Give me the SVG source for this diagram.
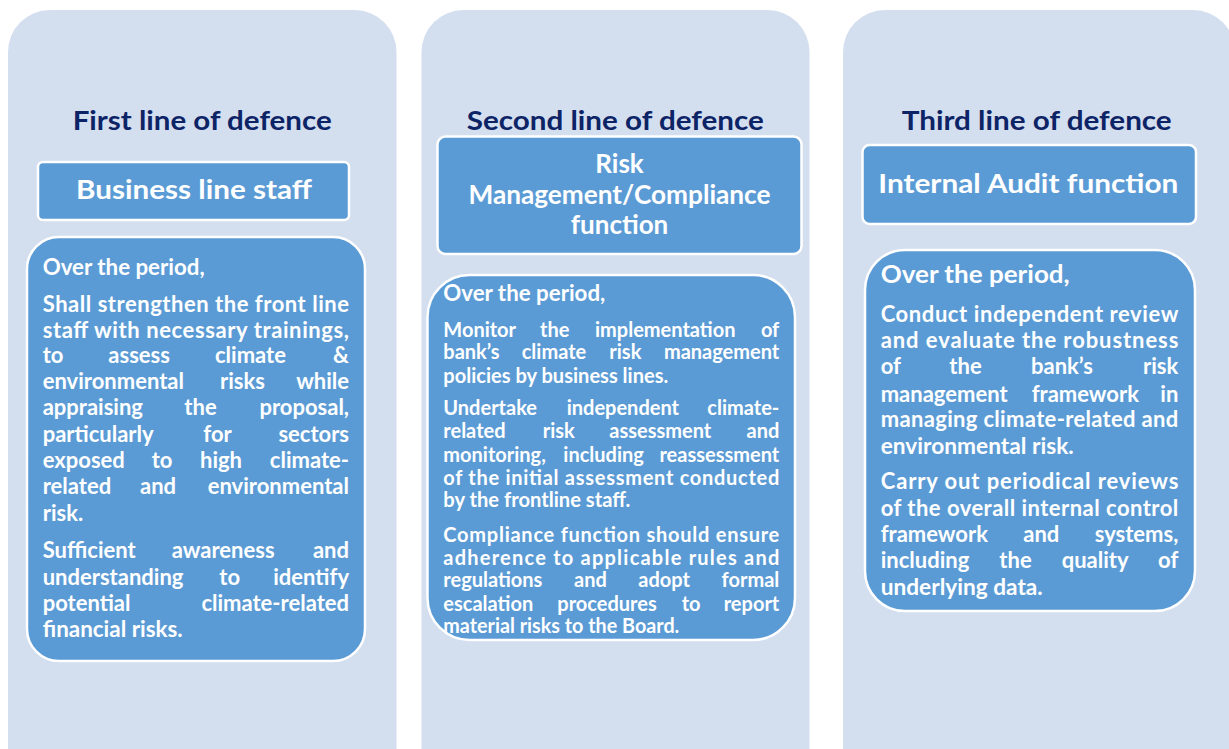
<svg xmlns="http://www.w3.org/2000/svg" width="1229" height="749" viewBox="0 0 1229 749">
  <style>
    .panel { fill: #D3DEEF; }
    .box { fill: #5B9BD5; stroke: #FFFFFF; stroke-width: 2.5; }
    .title { font-family: Lato, "Open Sans", sans-serif; font-weight: 700; font-size: 26px; fill: #0C2366; text-anchor: middle; }
    .head { font-family: Lato, "Open Sans", sans-serif; font-weight: 700; font-size: 26px; fill: #FFFFFF; text-anchor: middle; }
    .t1 { font-family: Lato, "Open Sans", sans-serif; font-weight: 700; font-size: 22px; fill: #FFFFFF; }
    .t2 { font-family: Lato, "Open Sans", sans-serif; font-weight: 700; font-size: 20px; fill: #FFFFFF; }
    .t3 { font-family: Lato, "Open Sans", sans-serif; font-weight: 700; font-size: 22px; fill: #FFFFFF; }
    .big { font-size: 25.5px; }
    .e { text-anchor: end; }
  </style>

  <rect width="1229" height="749" fill="#FFFFFF"/>

  <!-- column backgrounds -->
  <g id="panels">
    <rect id="panel-first" class="panel" x="8" y="10" width="388.5" height="790" rx="42"/>
    <rect id="panel-second" class="panel" x="421.5" y="10" width="388" height="790" rx="42"/>
    <rect id="panel-third" class="panel" x="843" y="10" width="392" height="790" rx="42"/>
  </g>

  <!-- column titles -->
  <g id="titles">
    <text id="title-first" class="title" x="202.2" y="130" textLength="259" lengthAdjust="spacingAndGlyphs">First line of defence</text>
    <text id="title-second" class="title" x="615.3" y="130" textLength="297" lengthAdjust="spacingAndGlyphs">Second line of defence</text>
    <text id="title-third" class="title" x="1036.7" y="130" textLength="270" lengthAdjust="spacingAndGlyphs">Third line of defence</text>
  </g>

  <!-- role boxes -->
  <g id="role-business">
    <rect class="box" x="38" y="162" width="311" height="58" rx="5"/>
    <text class="head" x="194" y="199" textLength="236" lengthAdjust="spacingAndGlyphs">Business line staff</text>
  </g>
  <g id="role-risk">
    <rect class="box" x="437.5" y="136.5" width="364" height="117.5" rx="8"/>
    <text class="head" x="619.5" y="172.5">Risk</text>
    <text class="head" x="619.5" y="203.5" textLength="302" lengthAdjust="spacingAndGlyphs">Management/Compliance</text>
    <text class="head" x="619.5" y="233.5">function</text>
  </g>
  <g id="role-audit">
    <rect class="box" x="862.5" y="145" width="333.5" height="79" rx="7"/>
    <text class="head" x="1028.3" y="192.7" textLength="300" lengthAdjust="spacingAndGlyphs">Internal Audit function</text>
  </g>

  <!-- first line duties -->
  <g id="duties-first">
    <rect class="box" x="27" y="237" width="338" height="424" rx="32"/>
    <text class="t1" x="42.7" y="275" textLength="162" lengthAdjust="spacingAndGlyphs">Over the period,</text>
    <text class="t1" x="42.7" y="311.7" textLength="306.3" lengthAdjust="spacing">Shall strengthen the front line</text>
    <text class="t1" x="42.7" y="337.7" textLength="306.3" lengthAdjust="spacing">staff with necessary trainings,</text>
    <text class="t1" y="363.3"><tspan x="42.7">to</tspan><tspan x="108.3">assess</tspan><tspan x="215">climate</tspan><tspan x="349" class="e">&amp;</tspan></text>
    <text class="t1" y="389.3"><tspan x="42.7">environmental</tspan><tspan x="220">risks</tspan><tspan x="349" class="e">while</tspan></text>
    <text class="t1" y="415"><tspan x="42.7">appraising</tspan><tspan x="184.3">the</tspan><tspan x="349" class="e">proposal,</tspan></text>
    <text class="t1" y="441.7"><tspan x="42.7">particularly</tspan><tspan x="203.3">for</tspan><tspan x="349" class="e">sectors</tspan></text>
    <text class="t1" y="468.3"><tspan x="42.7">exposed</tspan><tspan x="151.7">to</tspan><tspan x="200">high</tspan><tspan x="349" class="e">climate-</tspan></text>
    <text class="t1" y="494.3"><tspan x="42.7">related</tspan><tspan x="140">and</tspan><tspan x="349" class="e">environmental</tspan></text>
    <text class="t1" x="42.7" y="521">risk.</text>
    <text class="t1" y="558.3"><tspan x="42.7">Sufficient</tspan><tspan x="171.7">awareness</tspan><tspan x="349" class="e">and</tspan></text>
    <text class="t1" y="585"><tspan x="42.7">understanding</tspan><tspan x="219.3">to</tspan><tspan x="349" class="e">identify</tspan></text>
    <text class="t1" y="611"><tspan x="42.7">potential</tspan><tspan x="349" class="e">climate-related</tspan></text>
    <text class="t1" x="42.7" y="637.3" textLength="140" lengthAdjust="spacingAndGlyphs">financial risks.</text>
  </g>

  <!-- second line duties -->
  <g id="duties-second">
    <rect class="box" x="427.5" y="275" width="367.5" height="365" rx="42"/>
    <text class="t1" x="443.3" y="300.7" textLength="162" lengthAdjust="spacingAndGlyphs">Over the period,</text>
    <text class="t2" y="336.7"><tspan x="443.3">Monitor</tspan><tspan x="540">the</tspan><tspan x="595">implementation</tspan><tspan x="779.3" class="e">of</tspan></text>
    <text class="t2" y="359.3"><tspan x="443.3">bank’s</tspan><tspan x="521.7">climate</tspan><tspan x="609.3">risk</tspan><tspan x="779.3" class="e">management</tspan></text>
    <text class="t2" x="443.3" y="382.7" textLength="225" lengthAdjust="spacingAndGlyphs">policies by business lines.</text>
    <text class="t2" y="415"><tspan x="443.3">Undertake</tspan><tspan x="566.7">independent</tspan><tspan x="779.3" class="e">climate-</tspan></text>
    <text class="t2" y="438.3"><tspan x="443.3">related</tspan><tspan x="542.7">risk</tspan><tspan x="609.3">assessment</tspan><tspan x="779.3" class="e">and</tspan></text>
    <text class="t2" y="461.7"><tspan x="443.3">monitoring,</tspan><tspan x="563.3">including</tspan><tspan x="779.3" class="e">reassessment</tspan></text>
    <text class="t2" x="443.3" y="485" textLength="336" lengthAdjust="spacing">of the initial assessment conducted</text>
    <text class="t2" x="443.3" y="507.3" textLength="187" lengthAdjust="spacingAndGlyphs">by the frontline staff.</text>
    <text class="t2" x="443.3" y="541.7" textLength="336" lengthAdjust="spacing">Compliance function should ensure</text>
    <text class="t2" x="443.3" y="565" textLength="336" lengthAdjust="spacing">adherence to applicable rules and</text>
    <text class="t2" y="587.3"><tspan x="443.3">regulations</tspan><tspan x="574">and</tspan><tspan x="638.3">adopt</tspan><tspan x="779.3" class="e">formal</tspan></text>
    <text class="t2" y="610.7"><tspan x="443.3">escalation</tspan><tspan x="557.3">procedures</tspan><tspan x="681.7">to</tspan><tspan x="779.3" class="e">report</tspan></text>
    <text class="t2" x="443.3" y="633.3" textLength="236" lengthAdjust="spacingAndGlyphs">material risks to the Board.</text>
  </g>

  <!-- third line duties -->
  <g id="duties-third">
    <rect class="box" x="865" y="250" width="330" height="361" rx="40"/>
    <text class="t3 big" x="880.7" y="282.7" textLength="189" lengthAdjust="spacingAndGlyphs">Over the period,</text>
    <text class="t3" x="880.7" y="321.7" textLength="297.6" lengthAdjust="spacing">Conduct independent review</text>
    <text class="t3" x="880.7" y="348.3" textLength="297.6" lengthAdjust="spacing">and evaluate the robustness</text>
    <text class="t3" y="374.3"><tspan x="880.7">of</tspan><tspan x="949.3">the</tspan><tspan x="1031">bank’s</tspan><tspan x="1178.3" class="e">risk</tspan></text>
    <text class="t3" y="401.7"><tspan x="880.7">management</tspan><tspan x="1031.7">framework</tspan><tspan x="1178.3" class="e">in</tspan></text>
    <text class="t3" x="880.7" y="427.3" textLength="297.6" lengthAdjust="spacing">managing climate-related and</text>
    <text class="t3" x="880.7" y="454" textLength="193" lengthAdjust="spacingAndGlyphs">environmental risk.</text>
    <text class="t3" x="880.7" y="489.3" textLength="297.6" lengthAdjust="spacing">Carry out periodical reviews</text>
    <text class="t3" x="880.7" y="516" textLength="297.6" lengthAdjust="spacing">of the overall internal control</text>
    <text class="t3" y="542.3"><tspan x="880.7">framework</tspan><tspan x="1023.3">and</tspan><tspan x="1178.3" class="e">systems,</tspan></text>
    <text class="t3" y="568.3"><tspan x="880.7">including</tspan><tspan x="999.3">the</tspan><tspan x="1061.7">quality</tspan><tspan x="1178.3" class="e">of</tspan></text>
    <text class="t3" x="880.7" y="595" textLength="162" lengthAdjust="spacingAndGlyphs">underlying data.</text>
  </g>

  <!-- no connectors in this layout -->
  <g id="connectors"/>
</svg>
